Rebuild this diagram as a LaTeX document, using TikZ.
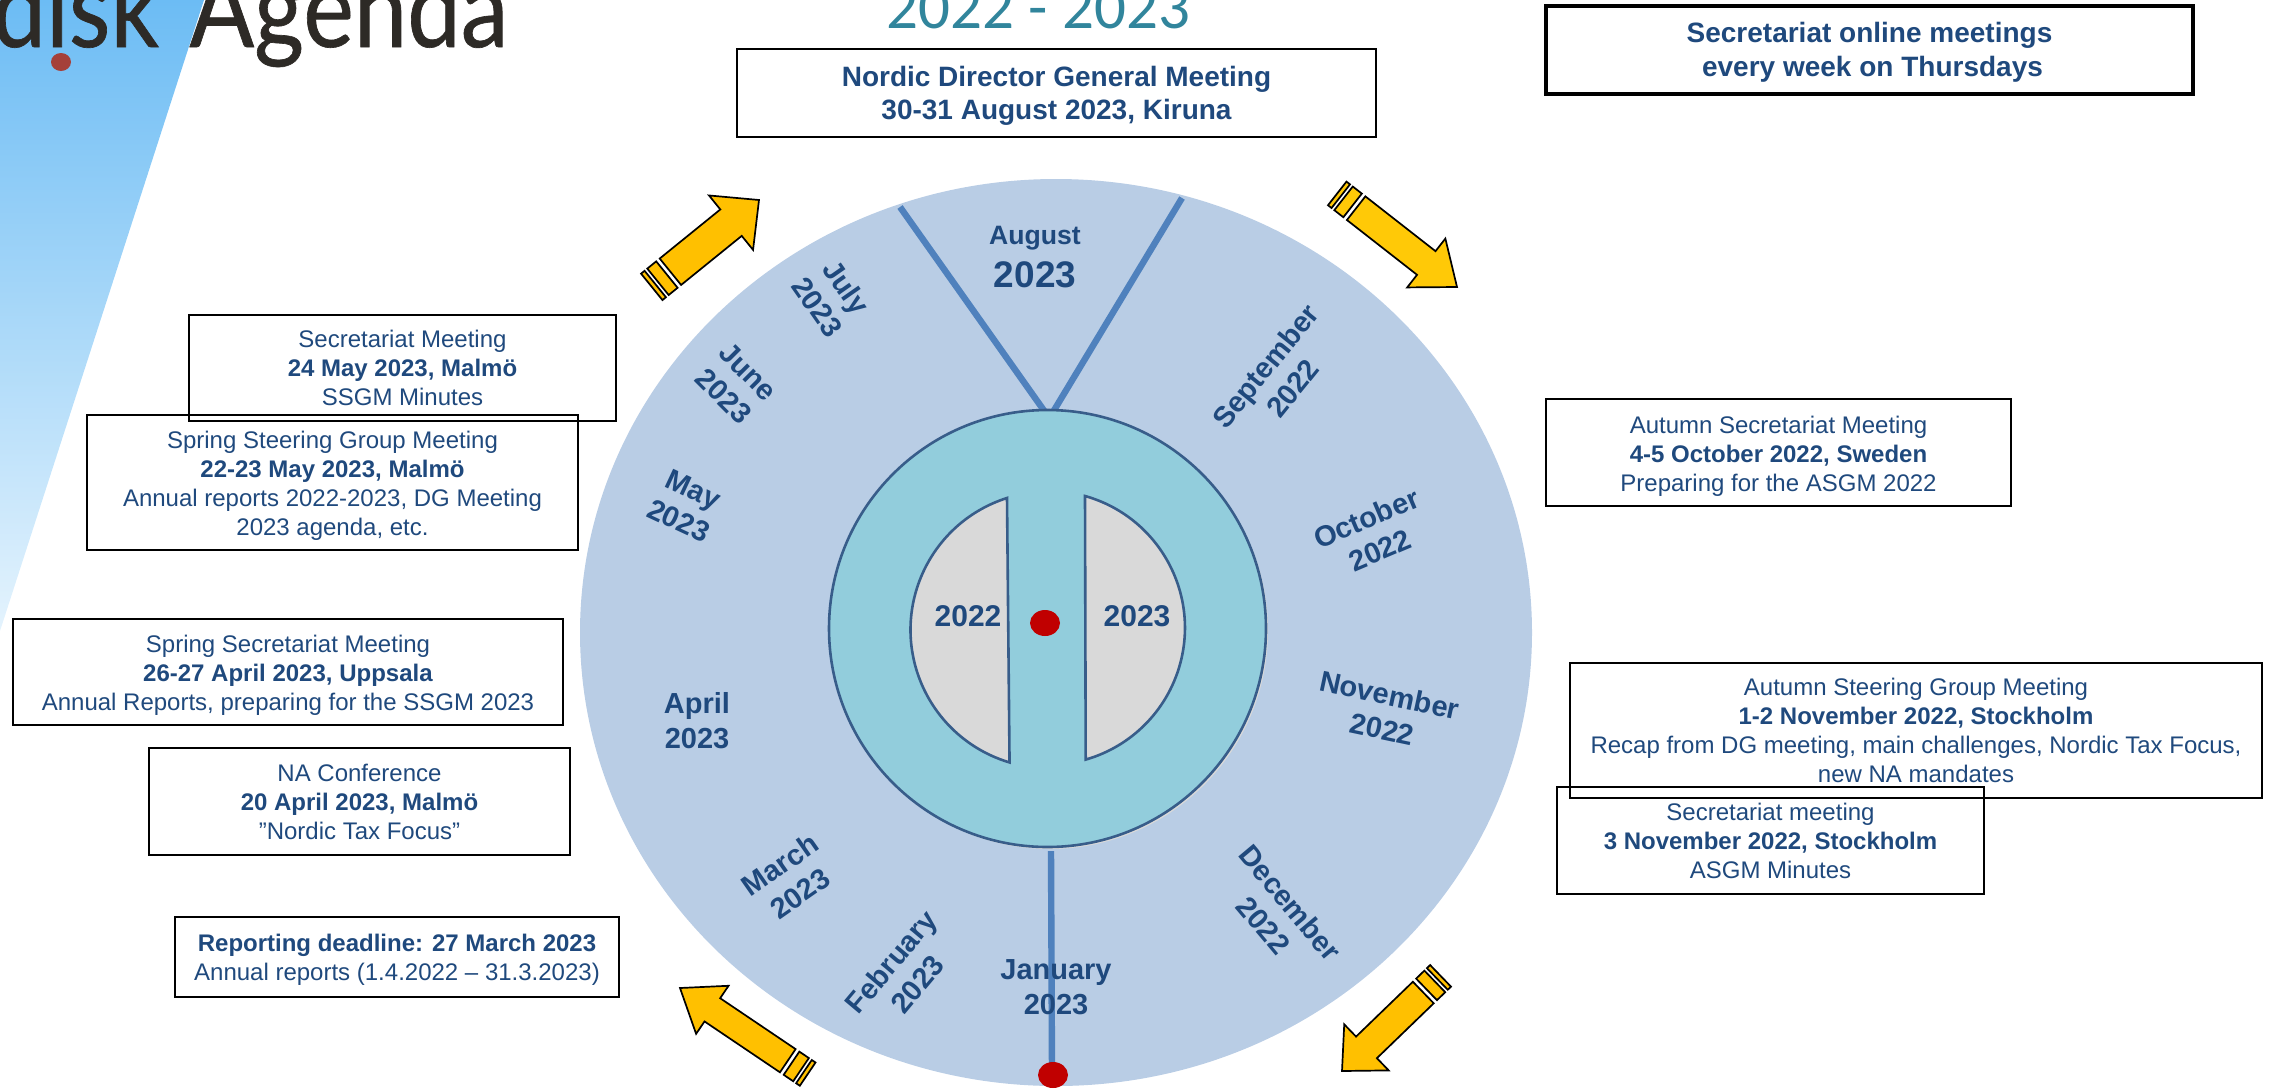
\documentclass[tikz,border=0pt]{standalone}
\usepackage{fontspec}
\setmainfont{Liberation Sans}
\newfontfamily\carlitofont{Carlito}
\newfontfamily\logofont[FakeStretch=0.87,FakeBold=0.6]{Lato}
\usetikzlibrary{shapes.geometric}
\definecolor{wheel}{HTML}{B9CDE5}
\definecolor{hub}{HTML}{92CDDC}
\definecolor{hubline}{HTML}{385D8A}
\definecolor{spoke}{HTML}{4F81BD}
\definecolor{ink}{HTML}{1F497D}
\definecolor{semi}{HTML}{D9D9D9}
\definecolor{reddot}{HTML}{C00000}
\definecolor{logodot}{HTML}{A5403A}
\definecolor{gold}{HTML}{FFC000}
\definecolor{goldb}{HTML}{FFC907}
\definecolor{titleteal}{HTML}{31859C}
\definecolor{logoink}{HTML}{2D2A26}
\definecolor{bandtop}{HTML}{6CBCF4}
\definecolor{bandbot}{HTML}{E4F3FD}
\newcommand{\fsz}[2]{\fontsize{#1}{#2}\selectfont}
\newcommand{\dn}[1]{\rule{0pt}{#1}}
% tip x, tip y, angle, length, head length, head half width, body half width, colour
\newcommand{\blockarrow}[8]{%
 \begin{scope}[shift={(#1,#2)},rotate=#3,draw=black,line width=0.85pt,fill=#8,line join=miter]
  \filldraw (0,0) -- (-#5,#6) -- (-#5,#7) -- (-#4+24,#7) -- (-#4+24,-#7) -- (-#5,-#7) -- (-#5,-#6) -- cycle;
  \filldraw (-#4+19.5,#7) rectangle (-#4+8,-#7);
  \filldraw (-#4+4.5,#7) rectangle (-#4,-#7);
 \end{scope}}
\tikzset{
 x=0.5pt,y=-0.5pt,
 infobox/.style={draw=black,line width=1pt,inner sep=0pt,align=center,text=ink,font=\fsz{12}{14.5}},
 month/.style={text=ink,align=center,inner sep=0pt,font=\bfseries\fsz{14.5}{17.5}},
 spokeline/.style={draw=spoke,line width=3.2pt},
 dotnode/.style={ellipse,fill=reddot,inner sep=0pt,minimum width=15pt,minimum height=13pt},
}
\begin{document}
\begin{tikzpicture}
\useasboundingbox (0,0) rectangle (2269,1088);
\clip (0,0) rectangle (2269,1088);
% background band and logo
\shade[top color=bandtop,bottom color=bandbot] (0,0) -- (204,0) -- (0,631) -- cycle;
\node[anchor=base west,inner sep=0pt,text=logoink,font=\logofont\fontsize{55}{60}\selectfont] (logo) at (-8,47) {disk\hspace{3pt} Agenda};
\fill[logodot] (61,62) ellipse [x radius=5pt,y radius=4.5pt];
% title
\node[anchor=base,inner sep=0pt,text=titleteal,font=\carlitofont\fontsize{31.5}{34}\selectfont] (title) at (1038.5,28) {2022 - 2023};
% wheel
\fill[wheel] (1056,632.5) ellipse [x radius=238pt,y radius=226.75pt];
\coordinate (vl) at (900,207); \coordinate (vr) at (1182,198);
\coordinate (vla) at (1045,412); \coordinate (vra) at (1053,412);
\coordinate (vb) at (1051,851); \coordinate (vbe) at (1052,1074);
\draw[spokeline] (vl) -- (vla);
\draw[spokeline] (vr) -- (vra);
\draw[spokeline] (vb) -- (vbe);
% hub
\fill[semi] (1049.5,630.5) ellipse [x radius=109.25pt,y radius=109.25pt];
\filldraw[fill=hub,draw=hubline,line width=1.3pt] (1047.5,628.5) ellipse [x radius=109.25pt,y radius=109.25pt];
\filldraw[fill=semi,draw=hubline,line width=1.3pt] (1007,498) arc[start angle=107.6,end angle=253.5,radius=69.15pt] -- cycle;
\filldraw[fill=semi,draw=hubline,line width=1.3pt] (1085,496) arc[start angle=74.3,end angle=-74,radius=68.5pt] -- cycle;
\node[dotnode] (hubdot) at (1045,623) {};
\node[dotnode] (enddot) at (1053,1075) {};
\node[month,font=\bfseries\fsz{15}{17}] (y22) at (968,616) {2022};
\node[month,font=\bfseries\fsz{15}{17}] (y23) at (1137,616) {2023};
% months
\node[month,font=\bfseries\fsz{13.3}{16}] (aug) at (1035,238.5) {August};
\node[month,font=\bfseries\fsz{18.5}{20}] (aug2) at (1035,275) {2023};
\node[month,rotate=51] (sep) at (1279,377) {September\\2022};
\node[month,rotate=23] (oct) at (1373,534) {October\\2022};
\node[month,rotate=-12] (nov) at (1386,712) {November\\2022};
\node[month,rotate=-50] (dec) at (1277,914) {December\\2022};
\node[month] (jan) at (1056,987) {January\\2023};
\node[month,rotate=50] (feb) at (904,973) {February\\2023};
\node[month,rotate=35] (mar) at (790,879) {March\\2023};
\node[month] (apr) at (697,721) {April\\2023};
\node[month,rotate=-25] (may) at (686,505) {May\\2023};
\node[month,rotate=-45] (jun) at (736,384) {June\\2023};
\node[month,rotate=-55] (jul) at (832,297) {July\\2023};
% arrows
\blockarrow{759}{200}{39}{138}{36}{35}{17}{gold}
\blockarrow{1457}{287}{-38}{152}{39}{31}{15}{goldb}
\blockarrow{680}{988}{146}{154}{39}{29}{14}{gold}
\blockarrow{1342}{1071}{-136}{137}{34}{32}{15}{gold}
% boxes
\node[infobox,minimum width=319.5pt,minimum height=44pt,font=\bfseries\fsz{14}{16.2}] (dg) at (1056.5,93) {\dn{13pt}Nordic Director General Meeting\\30-31 August 2023, Kiruna};
\node[infobox,line width=2pt,minimum width=323.5pt,minimum height=44pt,font=\bfseries\fsz{14}{17}] (online) at (1869.5,50) {\dn{12pt}Secretariat online meetings\\\hspace*{3pt}every week on Thursdays};
\node[infobox,minimum width=213.5pt,minimum height=53pt] (sec24) at (402.5,368) {\dn{9pt}Secretariat Meeting\\\textbf{24 May 2023, Malmö}\\SSGM Minutes};
\node[infobox,minimum width=245.5pt,minimum height=67.5pt] (ssg) at (332.5,482.5) {\dn{11.8pt}Spring Steering Group Meeting\\\textbf{22-23 May 2023, Malmö}\\Annual reports 2022-2023, DG Meeting\\2023 agenda, etc.};
\node[infobox,minimum width=275pt,minimum height=53pt] (sprsec) at (288,672) {\dn{11.8pt}Spring Secretariat Meeting\\\textbf{26-27 April 2023, Uppsala}\\Annual Reports, preparing for the SSGM 2023};
\node[infobox,minimum width=210.5pt,minimum height=53.5pt] (na) at (359.5,801.5) {NA Conference\\\textbf{20 April 2023, Malmö}\\”Nordic Tax Focus”};
\node[infobox,minimum width=222pt,minimum height=40pt] (rep) at (397,957) {\dn{11.8pt}\textbf{Reporting deadline: 27 March 2023}\\Annual reports (1.4.2022 – 31.3.2023)};
\node[infobox,minimum width=232.5pt,minimum height=53.5pt] (autsec) at (1778.5,452.5) {\dn{12.5pt}Autumn Secretariat Meeting\\\textbf{4-5 October 2022, Sweden}\\Preparing for the ASGM 2022};
\node[infobox,minimum width=346pt,minimum height=67.5pt] (autsg) at (1916,730.5) {Autumn Steering Group Meeting\\\textbf{1-2 November 2022, Stockholm}\\Recap from DG meeting, main challenges, Nordic Tax Focus,\\new NA mandates};
\node[infobox,minimum width=213.5pt,minimum height=53.5pt] (sec3) at (1770.5,840.5) {\dn{9pt}Secretariat meeting\\\textbf{3 November 2022, Stockholm}\\ASGM Minutes};
\end{tikzpicture}
\end{document}
